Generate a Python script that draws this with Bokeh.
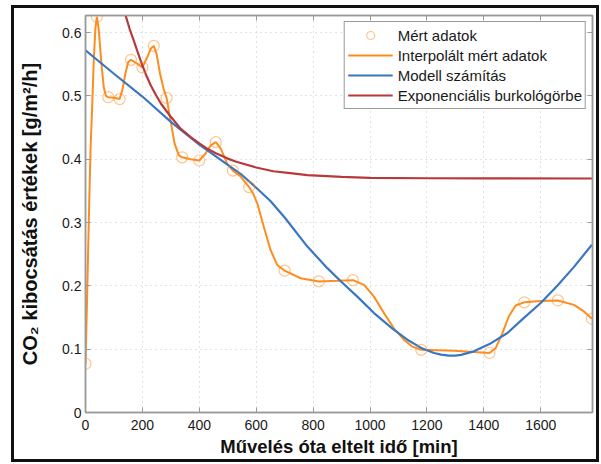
from bokeh.plotting import figure
from bokeh.models import (LinearAxis, FixedTicker, Range1d, Legend, LegendItem,
                          CustomJSTickFormatter, ColumnDataSource)
from bokeh.embed import file_html
from bokeh.resources import INLINE

# ---- data ----
meas_t = [0, 40, 80, 120, 160, 200, 240, 285, 340, 400, 458, 518, 575, 700, 820, 940,
          1180, 1420, 1542, 1660, 1780]
meas_v = [0.077, 0.625, 0.498, 0.495, 0.557, 0.545, 0.579, 0.497, 0.403, 0.398, 0.427,
          0.382, 0.356, 0.224, 0.207, 0.209, 0.099, 0.094, 0.174, 0.177, 0.148]

interp_t = [0, 3, 8, 13, 18, 23, 29, 35, 40, 47, 55, 64, 72, 80, 100, 120, 130, 140, 150,
            160, 178, 200, 217, 230, 240, 250, 262, 274, 285, 299, 313, 328, 340, 369, 400,
            422, 440, 458, 475, 498, 518, 545, 575, 590, 604, 627, 650, 674, 700, 756, 820,
            885, 940, 979, 1014, 1049, 1084, 1119, 1149, 1180, 1295, 1420, 1442, 1465, 1488,
            1512, 1542, 1600, 1660, 1717, 1752, 1780]
interp_v = [0.077, 0.13, 0.23, 0.33, 0.42, 0.477, 0.556, 0.608, 0.625, 0.603, 0.556, 0.514,
            0.500, 0.498, 0.497, 0.495, 0.510, 0.535, 0.553, 0.557, 0.552, 0.545, 0.561,
            0.575, 0.579, 0.566, 0.535, 0.512, 0.497, 0.461, 0.425, 0.406, 0.403, 0.400,
            0.398, 0.409, 0.422, 0.427, 0.417, 0.393, 0.382, 0.373, 0.356, 0.345, 0.330,
            0.293, 0.257, 0.233, 0.224, 0.212, 0.207, 0.208, 0.209, 0.2016, 0.183, 0.157,
            0.133, 0.115, 0.104, 0.099, 0.0976, 0.094, 0.102, 0.125, 0.152, 0.169, 0.174,
            0.176, 0.177, 0.170, 0.1596, 0.148]

model_t = [0, 100, 200, 300, 400, 500, 545, 600, 650, 700, 780, 850, 900, 960, 1014, 1080,
           1131, 1180, 1225, 1250, 1278, 1300, 1320, 1365, 1420, 1483, 1540, 1600, 1660,
           1717, 1780]
model_v = [0.572, 0.535, 0.499, 0.459, 0.423, 0.391, 0.377, 0.355, 0.334, 0.308, 0.262,
           0.228, 0.206, 0.181, 0.157, 0.132, 0.115, 0.102, 0.094, 0.0915, 0.0898, 0.0898,
           0.091, 0.0966, 0.108, 0.1255, 0.149, 0.173, 0.201, 0.230, 0.265]

env_t = [141, 155, 170, 185, 200, 215, 230, 248, 265, 283, 300, 335, 370, 400, 430, 460,
         500, 530, 600, 660, 720, 780, 900, 1000, 1200, 1400, 1780]
env_v = [0.627, 0.606, 0.587, 0.567, 0.548, 0.531, 0.516, 0.501, 0.488, 0.477, 0.467,
         0.448, 0.435, 0.425, 0.416, 0.409, 0.401, 0.396, 0.387, 0.381, 0.378, 0.375,
         0.372, 0.3706, 0.370, 0.3698, 0.3696]

x_ticks = [0, 200, 400, 600, 800, 1000, 1200, 1400, 1600]
x_tick_labels = ["0", "200", "400", "600", "800", "1000", "1200", "1400", "1600"]
y_ticks = [0, 0.1, 0.2, 0.3, 0.4, 0.5, 0.6]
y_tick_labels = ["0", "0.1", "0.2", "0.3", "0.4", "0.5", "0.6"]

legend_labels = ["Mért adatok", "Interpolált mért adatok", "Modell számítás",
                 "Exponenciális burkológörbe"]
x_title = "Művelés óta eltelt idő [min]"
y_title = "CO₂ kibocsátás értékek [g/m²/h]"

ORANGE = "#ff8c1f"
BLUE = "#3a77c2"
RED = "#b8393b"
AXIS = "#9a9a9a"
FONT = "Liberation Sans"

p = figure(width=582, height=451, x_range=Range1d(0, 1782), y_range=Range1d(0, 0.627),
           output_backend="svg", toolbar_location=None,
           min_border_left=71, min_border_right=4, min_border_top=7, min_border_bottom=46)
p.styles = {"outline": "3px solid #111", "margin-left": "14px", "margin-top": "8px"}
p.outline_line_color = AXIS
p.outline_line_width = 1.5

src_m = ColumnDataSource(dict(t=meas_t, v=meas_v))
src_i = ColumnDataSource(dict(t=interp_t, v=interp_v))
src_mod = ColumnDataSource(dict(t=model_t, v=model_v))
src_e = ColumnDataSource(dict(t=env_t, v=env_v))

r_i = p.line("t", "v", source=src_i, line_color=ORANGE, line_width=2)
r_mod = p.line("t", "v", source=src_mod, line_color=BLUE, line_width=2.2)
r_e = p.line("t", "v", source=src_e, line_color=RED, line_width=2.2)
r_m = p.scatter("t", "v", source=src_m, marker="circle", size=11, fill_color=None,
                line_color=ORANGE, line_alpha=0.5, line_width=1.2)

# axes
xt = FixedTicker(ticks=x_ticks)
yt = FixedTicker(ticks=y_ticks)
xa = p.xaxis[0]
ya = p.yaxis[0]
xa.ticker = xt
ya.ticker = yt
xa.major_label_overrides = dict(zip(x_ticks, x_tick_labels))
ya.major_label_overrides = dict(zip(y_ticks, y_tick_labels))
xa.axis_label = x_title
ya.axis_label = y_title
for ax in (xa, ya):
    ax.axis_line_color = AXIS
    ax.axis_line_width = 1.5
    ax.major_tick_line_color = AXIS
    ax.major_tick_in = 5
    ax.major_tick_out = 0
    ax.minor_tick_line_color = None
    ax.major_label_text_font = FONT
    ax.major_label_text_font_size = "14px"
    ax.major_label_text_color = "#1a1a1a"
    ax.axis_label_text_font = FONT
    ax.axis_label_text_font_style = "bold"
    ax.axis_label_text_color = "#111111"
xa.axis_label_text_font_size = "18.5px"
ya.axis_label_text_font_size = "20px"
xa.major_label_standoff = 7
xa.axis_label_standoff = 3
ya.major_label_standoff = 4
ya.axis_label_standoff = 18

blank = CustomJSTickFormatter(code="return ''")
top = LinearAxis(ticker=xt, formatter=blank, major_label_standoff=0)
right = LinearAxis(ticker=yt, formatter=blank, major_label_standoff=0)
for ax in (top, right):
    ax.axis_line_color = AXIS
    ax.axis_line_width = 1.5
    ax.major_tick_line_color = AXIS
    ax.major_tick_in = 5
    ax.major_tick_out = 0
    ax.minor_tick_line_color = None
    ax.major_label_text_font_size = "1px"
p.add_layout(top, "above")
p.add_layout(right, "right")

p.xgrid.ticker = xt
p.ygrid.ticker = yt
for g in (p.xgrid[0], p.ygrid[0]):
    g.grid_line_color = "#c4c4c4"
    g.grid_line_dash = "1 4"

legend = Legend(items=[LegendItem(label=legend_labels[0], renderers=[r_m]),
                       LegendItem(label=legend_labels[1], renderers=[r_i]),
                       LegendItem(label=legend_labels[2], renderers=[r_mod]),
                       LegendItem(label=legend_labels[3], renderers=[r_e])],
                location="top_right")
legend.margin = 6
legend.padding = 3
legend.spacing = 0
legend.label_height = 20
legend.glyph_height = 20
legend.glyph_width = 45
legend.label_standoff = 5
legend.label_text_font = FONT
legend.label_text_font_size = "15px"
legend.label_text_color = "#1a1a1a"
legend.border_line_color = "#333333"
legend.border_line_width = 1
legend.background_fill_alpha = 1
p.add_layout(legend)

open("out.html", "w").write(file_html(p, INLINE))
